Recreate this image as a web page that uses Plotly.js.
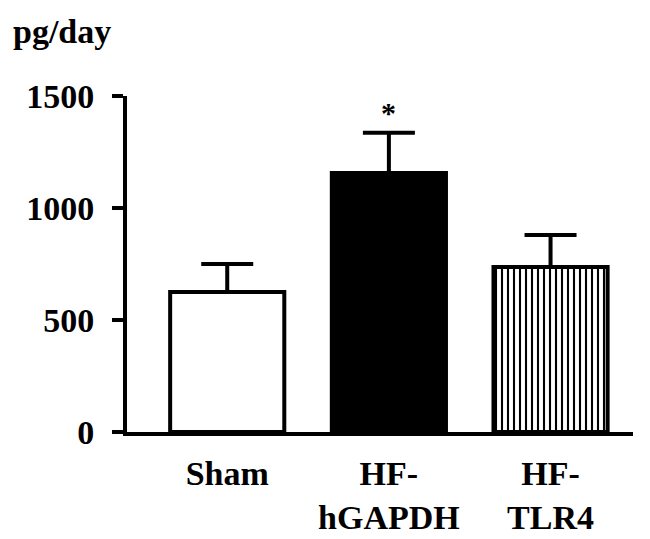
<!DOCTYPE html>
<html>
<head>
<meta charset="utf-8">
<script src="https://cdn.plot.ly/plotly-3.0.1.min.js"></script>
<style>html,body{margin:0;padding:0;background:#fff;}#chart{width:650px;height:539px;}</style>
</head>
<body>
<div id="chart"></div>
<script>
// Data
var categories = ["Sham", "HF-<br>hGAPDH", "HF-<br>TLR4"];
var values = [625, 1156, 737];
var errorsUp = [125, 180, 143];
var yTickVals = [0, 500, 1000, 1500];
var yTickText = ["0", "500", "1000", "1500"];
var yTitle = "pg/day";
var significance = ["", "*", ""];

var barColors = ["#ffffff", "#000000", "#ffffff"];
var barPatterns = ["", "", "|"];

var FONT = "Liberation Serif, Times New Roman, serif";

var traces = values.map(function (v, i) {
  var marker = {color: barColors[i], line: {color: "#000", width: 4}};
  if (barPatterns[i]) {
    marker.pattern = {shape: barPatterns[i], fgcolor: "#000", bgcolor: "#fff", size: 6, solidity: 0.35, fillmode: "replace"};
  }
  return {
    type: "bar",
    x: [i], y: [v],
    width: 0.706,
    marker: marker,
    error_y: {
      type: "data", symmetric: false, array: [errorsUp[i]], arrayminus: [0],
      color: "#000", thickness: 4, width: 26
    },
    hoverinfo: "none"
  };
});

var annotations = [];
significance.forEach(function (s, i) {
  if (s) {
    annotations.push({
      x: i, y: values[i] + errorsUp[i], xref: "x", yref: "y",
      text: "<b>" + s + "</b>", showarrow: false, yshift: 20,
      font: {family: FONT, size: 30, color: "#000"}
    });
  }
});
annotations.push({
  xref: "paper", yref: "paper", x: -0.229, y: 1.193, xanchor: "left", yanchor: "middle",
  text: "<b>" + yTitle + "</b>", showarrow: false,
  font: {family: FONT, size: 34, color: "#000"}
});

var layout = {
  width: 650, height: 539,
  margin: {l: 127, r: 17, t: 96, b: 107},
  paper_bgcolor: "#fff", plot_bgcolor: "#fff",
  showlegend: false,
  barmode: "overlay",
  font: {family: FONT, color: "#000"},
  xaxis: {
    range: [-0.62, 2.51], tickvals: [0, 1, 2], ticktext: categories.map(function (c) { return "<b>" + c + "</b>"; }),
    showline: true, linecolor: "#000", linewidth: 4, ticks: "", showgrid: false, zeroline: false,
    tickfont: {family: FONT, size: 34, color: "#000"}, ticklabelstandoff: 8, fixedrange: true
  },
  yaxis: {
    range: [0, 1500], tickvals: yTickVals, ticktext: yTickText.map(function (t) { return "<b>" + t + "</b>"; }),
    showline: true, linecolor: "#000", linewidth: 4, ticks: "outside", ticklen: 11, tickwidth: 4, tickcolor: "#000",
    showgrid: false, zeroline: false,
    tickfont: {family: FONT, size: 34, color: "#000"}, ticklabelstandoff: 11, fixedrange: true
  },
  annotations: annotations
};

Plotly.newPlot("chart", traces, layout, {staticPlot: true, displayModeBar: false});
</script>
</body>
</html>
